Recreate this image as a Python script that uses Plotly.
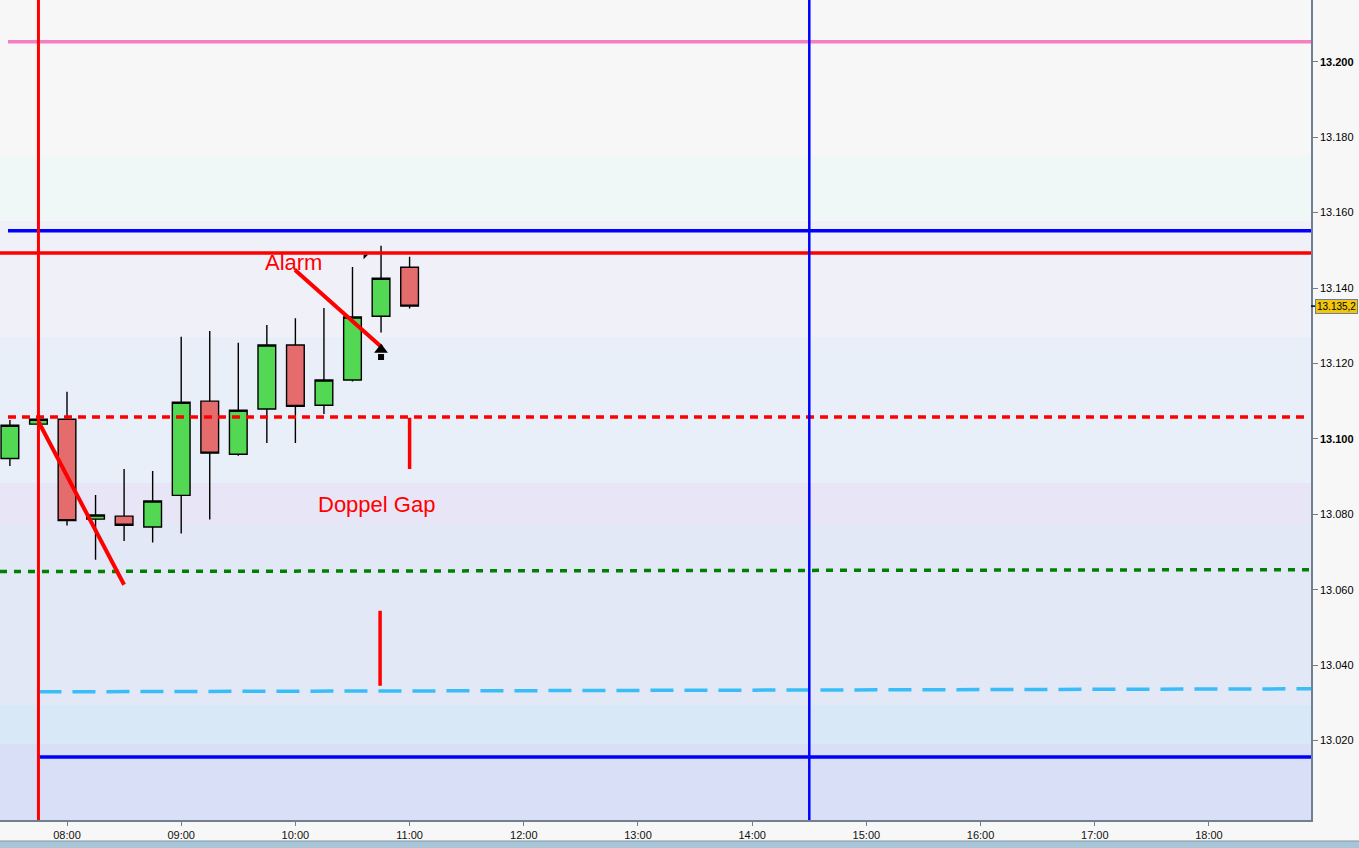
import plotly.graph_objects as go

DAY = "2021-01-04 "

# ---------------- data ----------------
candle_times = ["07:30", "07:45", "08:00", "08:15", "08:30", "08:45", "09:00", "09:15",
                "09:30", "09:45", "10:00", "10:15", "10:30", "10:45", "11:00"]
candle_open = [13094.8, 13103.9, 13105.2, 13078.7, 13079.5, 13076.6, 13085.0, 13110.0,
               13095.9, 13107.9, 13124.9, 13108.9, 13115.6, 13132.5, 13145.5]
candle_high = [13105.0, 13105.3, 13112.5, 13085.1, 13092.0, 13091.5, 13127.1, 13128.6,
               13125.5, 13130.2, 13132.0, 13134.7, 13145.6, 13151.2, 13148.3]
candle_low = [13092.8, 13103.8, 13077.0, 13067.9, 13072.9, 13072.5, 13074.9, 13078.6,
              13095.5, 13098.9, 13098.9, 13106.6, 13115.2, 13128.2, 13134.6]
candle_close = [13103.6, 13105.2, 13078.3, 13079.8, 13077.1, 13083.5, 13109.7, 13096.2,
                13107.6, 13124.9, 13108.6, 13115.6, 13132.3, 13142.6, 13135.2]

last_price = 13135.2
last_price_text = "13.135,2"

x_range = ["07:24:48", "18:53:36"]
y_range = [12998.9, 13216.4]

y_tick_vals = [13020, 13040, 13060, 13080, 13100, 13120, 13140, 13160, 13180, 13200]
y_tick_text = ["13.020", "13.040", "13.060", "13.080", "<b>13.100</b>", "13.120",
               "13.140", "13.160", "13.180", "<b>13.200</b>"]
x_tick_vals = ["08:00", "09:00", "10:00", "11:00", "12:00", "13:00", "14:00",
               "15:00", "16:00", "17:00", "18:00"]

# background zones
band_low = [13175.3, 13157.8, 13127.1, 13088.3, 13077.7, 13029.4, 13019.1, 12980.0]
band_high = [13240.0, 13175.3, 13157.8, 13127.1, 13088.3, 13077.7, 13029.4, 13019.1]
band_colors = ["#f7f7f7", "#eff8f6", "#f0f0f9", "#e8eff8", "#e8e6f6", "#e2e8f6",
               "#d8e8f7", "#d8dff7"]

# horizontal levels (x start/end, y start/end)
pink_x = ["07:29:00", "18:53:36"]
pink_y = [13205.3, 13205.3]
blue_top_x = ["07:29:00", "18:53:36"]
blue_top_y = [13155.2, 13155.2]
red_solid_x = ["07:24:48", "18:53:36"]
red_solid_y = [13149.3, 13149.3]
red_dot_x = ["07:29:00", "18:50:24"]
red_dot_y = [13105.8, 13105.8]
green_dot_x = ["07:24:48", "18:53:36"]
green_dot_y = [13064.8, 13065.3]
lblue_dash_x = ["07:45:00", "18:53:36"]
lblue_dash_y = [13032.9, 13033.7]
blue_bot_x = ["07:45:00", "18:53:36"]
blue_bot_y = [13015.6, 13015.6]

# vertical markers
red_vline_time = "07:45:00"
blue_vline_time = "14:30:00"

# drawn trend strokes
stroke1_x = ["07:45:00", "08:30:00"]
stroke1_y = [13104.6, 13061.3]
stroke2_x = ["09:59:48", "10:45:24"]
stroke2_y = [13144.8, 13124.3]
gap1_x = ["11:00:00", "11:00:00"]
gap1_y = [13105.6, 13092.0]
gap2_x = ["10:44:30", "10:44:30"]
gap2_y = [13054.4, 13034.5]

# arrow glyph
arrow_head_x = ["10:45:00"]
arrow_head_y = [13123.6]
arrow_stem_x = ["10:45:00"]
arrow_stem_y = [13121.7]
cursor_x = ["10:36:36"]
cursor_y = [13148.4]

# texts
alarm_x, alarm_y, alarm_text = "09:58:48", 13146.7, "Alarm"
gap_x, gap_y, gap_text = "10:42:48", 13082.5, "Doppel Gap"


def t(v):
    if isinstance(v, list):
        return [DAY + s for s in v]
    return DAY + v


fig = go.Figure()

shapes = []
for lo, hi, col in zip(band_low, band_high, band_colors):
    shapes.append(dict(type="rect", xref="paper", yref="y", x0=0, x1=1, y0=lo, y1=hi,
                       fillcolor=col, line=dict(width=0), layer="below"))

fig.add_trace(go.Candlestick(
    x=t(candle_times), open=candle_open, high=candle_high, low=candle_low, close=candle_close,
    increasing=dict(fillcolor="#52d852", line=dict(color="#000000", width=1.4)),
    decreasing=dict(fillcolor="#e46c6c", line=dict(color="#000000", width=1.4)),
    whiskerwidth=0, hoverinfo="skip", showlegend=False,
))


def line(xs, ys, color, width, dash="solid"):
    fig.add_trace(go.Scatter(x=t(xs), y=ys, mode="lines",
                             line=dict(color=color, width=width, dash=dash),
                             hoverinfo="skip", showlegend=False))


line(pink_x, pink_y, "#f47fc3", 3.5)
line(blue_top_x, blue_top_y, "#0000ff", 3.5)
line(red_solid_x, red_solid_y, "#ff0000", 3.5)
line(red_dot_x, red_dot_y, "#ff0000", 3.5, "8px,6px")
line(green_dot_x, green_dot_y, "#008000", 3.5, "7px,7px")
line(lblue_dash_x, lblue_dash_y, "#38bdf8", 3.5, "23px,11px")
line(blue_bot_x, blue_bot_y, "#0000ff", 3.5)

line(stroke1_x, stroke1_y, "#ff0000", 4)
line(stroke2_x, stroke2_y, "#ff0000", 4)
line(gap1_x, gap1_y, "#ff0000", 3.5)
line(gap2_x, gap2_y, "#ff0000", 3.5)

fig.add_trace(go.Scatter(x=t(arrow_stem_x), y=arrow_stem_y, mode="markers",
                         marker=dict(symbol="square", size=6, color="#000000"),
                         hoverinfo="skip", showlegend=False))
fig.add_trace(go.Scatter(x=t(arrow_head_x), y=arrow_head_y, mode="markers",
                         marker=dict(symbol="triangle-up", size=12, color="#000000"),
                         hoverinfo="skip", showlegend=False))
fig.add_trace(go.Scatter(x=t(cursor_x), y=cursor_y, mode="markers",
                         marker=dict(symbol="triangle-nw", size=5, color="#000000"),
                         hoverinfo="skip", showlegend=False))

shapes.append(dict(type="line", xref="x", yref="paper", x0=t(red_vline_time), x1=t(red_vline_time),
                   y0=0, y1=1, line=dict(color="#ff0000", width=3)))
shapes.append(dict(type="line", xref="x", yref="paper", x0=t(blue_vline_time), x1=t(blue_vline_time),
                   y0=0, y1=1, line=dict(color="#0000ff", width=2.5)))
# price marker tick on the axis
shapes.append(dict(type="line", xref="paper", yref="y", x0=1.0, x1=1.0038,
                   y0=last_price, y1=last_price, line=dict(color="#000000", width=1.5)))
# bottom strip of the window
shapes.append(dict(type="rect", xref="paper", yref="paper", x0=-0.01, x1=1.05,
                   y0=-0.05, y1=-0.0256, fillcolor="#a8c5d7",
                   line=dict(color="#7f98a8", width=1), layer="above"))

annotations = [
    dict(x=t(alarm_x), y=alarm_y, text=alarm_text, showarrow=False, xref="x", yref="y",
         font=dict(family="Liberation Sans, Arial", size=22, color="#ff0000")),
    dict(x=t(gap_x), y=gap_y, text=gap_text, showarrow=False, xref="x", yref="y",
         font=dict(family="Liberation Sans, Arial", size=22, color="#ff0000")),
    dict(x=1.0, y=last_price, xref="paper", yref="y", xanchor="left", xshift=4,
         text=last_price_text, showarrow=False, bgcolor="#f2c50f", bordercolor="#6f8090",
         borderwidth=1, borderpad=1,
         font=dict(family="Liberation Sans, Arial", size=10, color="#000000")),
]

fig.update_layout(
    width=1359, height=848,
    margin=dict(l=0, r=48, t=0, b=28),
    paper_bgcolor="#f7f7f7", plot_bgcolor="#f7f7f7",
    shapes=shapes, annotations=annotations,
    showlegend=False, hovermode=False,
    xaxis=dict(type="date", range=t(x_range), rangeslider=dict(visible=False),
               tickvals=t(x_tick_vals), tickformat="%H:%M", showgrid=False, zeroline=False,
               ticks="outside", ticklen=4, tickcolor="#708090", showline=True,
               linecolor="#708090", linewidth=1.5,
               tickfont=dict(family="Liberation Sans, Arial", size=11, color="#111111")),
    yaxis=dict(range=y_range, side="right", tickvals=y_tick_vals, ticktext=y_tick_text,
               showgrid=False, zeroline=False, ticks="outside", ticklen=5,
               tickcolor="#708090", showline=True, linecolor="#708090", linewidth=1.5,
               tickfont=dict(family="Liberation Sans, Arial", size=11, color="#000000")),
    boxgap=0.38, boxgroupgap=0,
)

fig.write_html("out.html", post_script="document.body.style.margin='0';",
               config={"displayModeBar": False})
